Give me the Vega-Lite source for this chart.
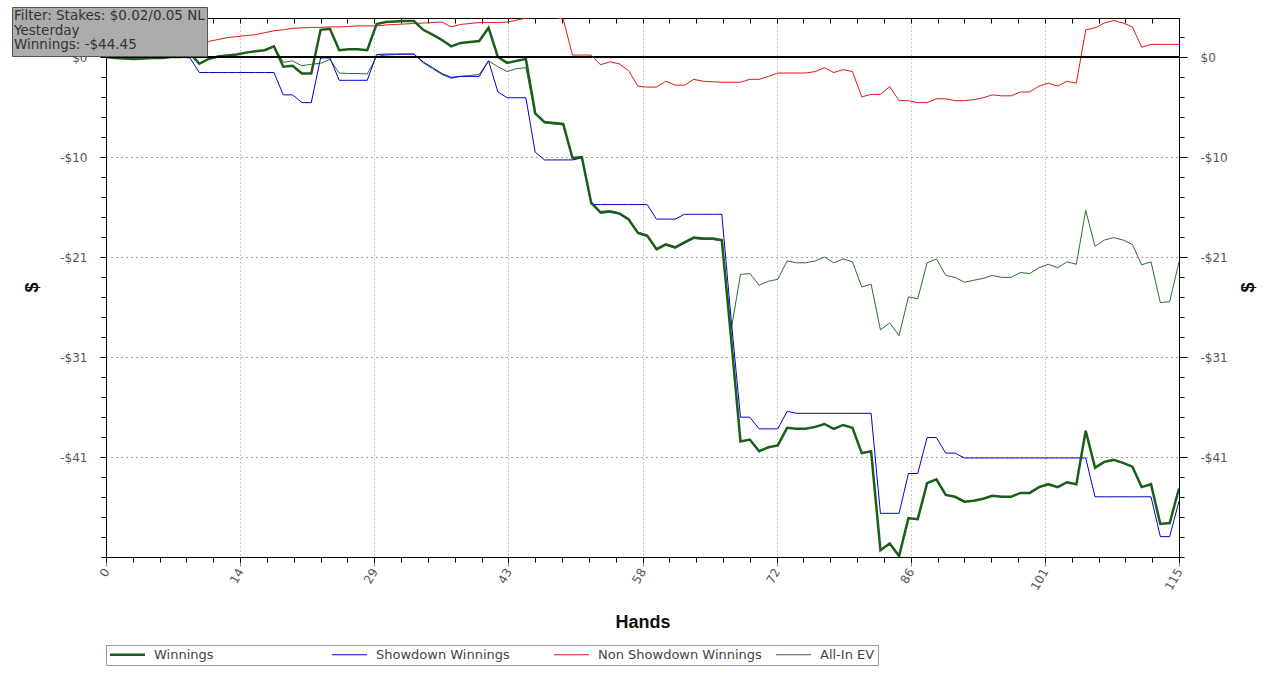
{
"$schema":"https://vega.github.io/schema/vega-lite/v6.json",
"width":1073,"height":539,
"autosize":{"type":"none"},
"padding":{"left":106,"top":18,"right":105,"bottom":126},
"background":"white",
"config":{"view":{"stroke":"black","strokeWidth":1},"font":"DejaVu Sans"},
"data":{"values":[
{"h":0,"W":0,"SD":0,"NSD":0,"EV":0},
{"h":1,"W":-0.1,"SD":-0.1,"NSD":0,"EV":-0.1},
{"h":2,"W":-0.15,"SD":-0.15,"NSD":0,"EV":-0.15},
{"h":3,"W":-0.2,"SD":-0.2,"NSD":0,"EV":-0.2},
{"h":4,"W":-0.15,"SD":-0.15,"NSD":0,"EV":-0.15},
{"h":5,"W":-0.1,"SD":-0.1,"NSD":0,"EV":-0.1},
{"h":6,"W":-0.1,"SD":-0.1,"NSD":0,"EV":-0.1},
{"h":7,"W":0,"SD":0,"NSD":0,"EV":0},
{"h":8,"W":0,"SD":0,"NSD":0,"EV":0},
{"h":9,"W":0.4,"SD":-0.1,"NSD":0.5,"EV":0.4},
{"h":10,"W":-0.7,"SD":-1.6,"NSD":0.9,"EV":-0.7},
{"h":11,"W":-0.2,"SD":-1.6,"NSD":1.6,"EV":-0.2},
{"h":12,"W":0.05,"SD":-1.6,"NSD":1.8,"EV":0.05},
{"h":13,"W":0.15,"SD":-1.6,"NSD":2.0,"EV":0.15},
{"h":14,"W":0.25,"SD":-1.6,"NSD":2.1,"EV":0.25},
{"h":15,"W":0.45,"SD":-1.6,"NSD":2.2,"EV":0.45},
{"h":16,"W":0.6,"SD":-1.6,"NSD":2.3,"EV":0.6},
{"h":17,"W":0.7,"SD":-1.6,"NSD":2.5,"EV":0.7},
{"h":18,"W":1.1,"SD":-1.6,"NSD":2.7,"EV":1.1},
{"h":19,"W":-1.0,"SD":-3.9,"NSD":2.8,"EV":-0.55},
{"h":20,"W":-0.9,"SD":-3.9,"NSD":2.95,"EV":-0.4},
{"h":21,"W":-1.7,"SD":-4.7,"NSD":3.0,"EV":-0.9},
{"h":22,"W":-1.7,"SD":-4.7,"NSD":3.05,"EV":-0.75},
{"h":23,"W":2.8,"SD":-0.1,"NSD":3.05,"EV":-0.65},
{"h":24,"W":2.9,"SD":-0.1,"NSD":3.1,"EV":-0.25},
{"h":25,"W":0.7,"SD":-2.4,"NSD":3.1,"EV":-1.65},
{"h":26,"W":0.8,"SD":-2.4,"NSD":3.15,"EV":-1.7},
{"h":27,"W":0.8,"SD":-2.4,"NSD":3.2,"EV":-1.7},
{"h":28,"W":0.7,"SD":-2.4,"NSD":3.2,"EV":-1.75},
{"h":29,"W":3.4,"SD":0.25,"NSD":3.2,"EV":0.05},
{"h":30,"W":3.6,"SD":0.3,"NSD":3.3,"EV":0.2},
{"h":31,"W":3.65,"SD":0.3,"NSD":3.35,"EV":0.25},
{"h":32,"W":3.7,"SD":0.3,"NSD":3.4,"EV":0.3},
{"h":33,"W":3.7,"SD":0.3,"NSD":3.45,"EV":0.3},
{"h":34,"W":2.8,"SD":-0.5,"NSD":3.5,"EV":-0.6},
{"h":35,"W":2.3,"SD":-1.1,"NSD":3.55,"EV":-1.2},
{"h":36,"W":1.75,"SD":-1.7,"NSD":3.6,"EV":-1.8},
{"h":37,"W":1.1,"SD":-2.1,"NSD":3.1,"EV":-2.2},
{"h":38,"W":1.45,"SD":-2.0,"NSD":3.35,"EV":-2.0},
{"h":39,"W":1.55,"SD":-2.0,"NSD":3.45,"EV":-1.9},
{"h":40,"W":1.65,"SD":-2.0,"NSD":3.55,"EV":-1.8},
{"h":41,"W":3.0,"SD":-0.4,"NSD":3.55,"EV":-0.4},
{"h":42,"W":0.0,"SD":-3.6,"NSD":3.55,"EV":-1.0},
{"h":43,"W":-0.6,"SD":-4.2,"NSD":3.6,"EV":-1.5},
{"h":44,"W":-0.4,"SD":-4.2,"NSD":3.8,"EV":-1.2},
{"h":45,"W":-0.2,"SD":-4.2,"NSD":4.0,"EV":-1.1},
{"h":46,"W":-5.8,"SD":-9.8,"NSD":4.1,"EV":-5.9},
{"h":47,"W":-6.7,"SD":-10.6,"NSD":4.1,"EV":-6.8},
{"h":48,"W":-6.8,"SD":-10.6,"NSD":4.1,"EV":-6.9},
{"h":49,"W":-6.9,"SD":-10.6,"NSD":3.9,"EV":-7.0},
{"h":50,"W":-10.4,"SD":-10.6,"NSD":0.2,"EV":-10.5},
{"h":51,"W":-10.3,"SD":-10.4,"NSD":0.2,"EV":-10.4},
{"h":52,"W":-15.0,"SD":-15.2,"NSD":0.2,"EV":-15.1},
{"h":53,"W":-16.0,"SD":-15.2,"NSD":-0.8,"EV":-16.1},
{"h":54,"W":-15.9,"SD":-15.2,"NSD":-0.5,"EV":-16.0},
{"h":55,"W":-16.1,"SD":-15.2,"NSD":-0.7,"EV":-16.2},
{"h":56,"W":-16.7,"SD":-15.2,"NSD":-1.4,"EV":-16.8},
{"h":57,"W":-18.1,"SD":-15.2,"NSD":-3.0,"EV":-18.2},
{"h":58,"W":-18.4,"SD":-15.2,"NSD":-3.1,"EV":-18.5},
{"h":59,"W":-19.8,"SD":-16.7,"NSD":-3.1,"EV":-19.9},
{"h":60,"W":-19.3,"SD":-16.7,"NSD":-2.5,"EV":-19.4},
{"h":61,"W":-19.6,"SD":-16.7,"NSD":-2.9,"EV":-19.7},
{"h":62,"W":-19.1,"SD":-16.2,"NSD":-2.9,"EV":-19.2},
{"h":63,"W":-18.6,"SD":-16.2,"NSD":-2.3,"EV":-18.7},
{"h":64,"W":-18.7,"SD":-16.2,"NSD":-2.5,"EV":-18.8},
{"h":65,"W":-18.7,"SD":-16.2,"NSD":-2.55,"EV":-18.8},
{"h":66,"W":-18.85,"SD":-16.2,"NSD":-2.6,"EV":-18.95},
{"h":67,"W":-29.0,"SD":-27.0,"NSD":-2.6,"EV":-28.1},
{"h":68,"W":-39.6,"SD":-37.1,"NSD":-2.6,"EV":-22.4},
{"h":69,"W":-39.4,"SD":-37.1,"NSD":-2.3,"EV":-22.3},
{"h":70,"W":-40.6,"SD":-38.3,"NSD":-2.3,"EV":-23.5},
{"h":71,"W":-40.2,"SD":-38.3,"NSD":-2.0,"EV":-23.1},
{"h":72,"W":-40.0,"SD":-38.3,"NSD":-1.65,"EV":-22.9},
{"h":73,"W":-38.2,"SD":-36.5,"NSD":-1.65,"EV":-21.0},
{"h":74,"W":-38.3,"SD":-36.7,"NSD":-1.65,"EV":-21.2},
{"h":75,"W":-38.3,"SD":-36.7,"NSD":-1.65,"EV":-21.2},
{"h":76,"W":-38.1,"SD":-36.7,"NSD":-1.5,"EV":-21.0},
{"h":77,"W":-37.8,"SD":-36.7,"NSD":-1.1,"EV":-20.6},
{"h":78,"W":-38.3,"SD":-36.7,"NSD":-1.6,"EV":-21.2},
{"h":79,"W":-37.9,"SD":-36.7,"NSD":-1.3,"EV":-20.8},
{"h":80,"W":-38.2,"SD":-36.7,"NSD":-1.5,"EV":-21.1},
{"h":81,"W":-40.8,"SD":-36.7,"NSD":-4.1,"EV":-23.7},
{"h":82,"W":-40.6,"SD":-36.7,"NSD":-3.85,"EV":-23.4},
{"h":83,"W":-50.8,"SD":-47.0,"NSD":-3.85,"EV":-28.1},
{"h":84,"W":-50.1,"SD":-47.0,"NSD":-3.05,"EV":-27.4},
{"h":85,"W":-51.4,"SD":-47.0,"NSD":-4.5,"EV":-28.7},
{"h":86,"W":-47.5,"SD":-42.9,"NSD":-4.5,"EV":-24.7},
{"h":87,"W":-47.6,"SD":-42.9,"NSD":-4.7,"EV":-24.9},
{"h":88,"W":-43.9,"SD":-39.2,"NSD":-4.7,"EV":-21.2},
{"h":89,"W":-43.5,"SD":-39.2,"NSD":-4.3,"EV":-20.8},
{"h":90,"W":-45.1,"SD":-40.8,"NSD":-4.3,"EV":-22.5},
{"h":91,"W":-45.3,"SD":-40.8,"NSD":-4.5,"EV":-22.7},
{"h":92,"W":-45.8,"SD":-41.3,"NSD":-4.5,"EV":-23.2},
{"h":93,"W":-45.7,"SD":-41.3,"NSD":-4.4,"EV":-23.0},
{"h":94,"W":-45.5,"SD":-41.3,"NSD":-4.2,"EV":-22.8},
{"h":95,"W":-45.2,"SD":-41.3,"NSD":-3.9,"EV":-22.5},
{"h":96,"W":-45.3,"SD":-41.3,"NSD":-4.0,"EV":-22.7},
{"h":97,"W":-45.3,"SD":-41.3,"NSD":-4.0,"EV":-22.7},
{"h":98,"W":-44.9,"SD":-41.3,"NSD":-3.6,"EV":-22.2},
{"h":99,"W":-44.9,"SD":-41.3,"NSD":-3.6,"EV":-22.3},
{"h":100,"W":-44.3,"SD":-41.3,"NSD":-3.0,"EV":-21.7},
{"h":101,"W":-44.0,"SD":-41.3,"NSD":-2.7,"EV":-21.35},
{"h":102,"W":-44.3,"SD":-41.3,"NSD":-3.0,"EV":-21.7},
{"h":103,"W":-43.8,"SD":-41.3,"NSD":-2.5,"EV":-21.1},
{"h":104,"W":-44.0,"SD":-41.3,"NSD":-2.7,"EV":-21.35},
{"h":105,"W":-38.5,"SD":-41.3,"NSD":2.8,"EV":-15.8},
{"h":106,"W":-42.3,"SD":-45.3,"NSD":3.0,"EV":-19.5},
{"h":107,"W":-41.7,"SD":-45.3,"NSD":3.5,"EV":-18.85},
{"h":108,"W":-41.5,"SD":-45.3,"NSD":3.75,"EV":-18.6},
{"h":109,"W":-41.8,"SD":-45.3,"NSD":3.5,"EV":-18.85},
{"h":110,"W":-42.2,"SD":-45.3,"NSD":3.1,"EV":-19.3},
{"h":111,"W":-44.3,"SD":-45.3,"NSD":1.0,"EV":-21.4},
{"h":112,"W":-44.0,"SD":-45.3,"NSD":1.3,"EV":-21.1},
{"h":113,"W":-48.1,"SD":-49.4,"NSD":1.3,"EV":-25.3},
{"h":114,"W":-48.0,"SD":-49.4,"NSD":1.3,"EV":-25.2},
{"h":115,"W":-44.45,"SD":-45.75,"NSD":1.3,"EV":-21.1}
]},
"transform":[{"fold":["W","SD","NSD","EV"],"as":["series","value"]}],
"resolve":{"scale":{"x":"independent","y":"independent"},"axis":{"x":"independent","y":"independent"}},
"encoding":{
  "color":{"field":"series","type":"nominal",
    "scale":{"domain":["W","SD","NSD","EV"],"range":["#1b5e1b","#0000d0","#e01818","#2f6a2f"]},
    "legend":{"title":null,"orient":"none","legendX":0,"legendY":627,"direction":"horizontal","columns":4,"gridAlign":"all",
      "symbolType":"stroke","symbolSize":1225,"symbolStrokeWidth":1,"symbolOffset":12,"labelFontSize":13,"labelColor":"#444","labelLimit":400,
      "labelOffset":20,"columnPadding":12,"padding":3,"strokeColor":"#999","fillColor":"white",
      "labelExpr":"datum.label == 'W' ? 'Winnings' : datum.label == 'SD' ? 'Showdown Winnings' : datum.label == 'NSD' ? 'Non Showdown Winnings' : 'All-In EV'",
      "encode":{"symbols":{"update":{"strokeWidth":{"signal":"datum.value === 'W' ? 2.5 : 1"}}}}}
  }
},
"layer":[
{
  "transform":[{"filter":"datum.series == 'EV'"}],
  "mark":{"type":"line","strokeWidth":1,"clip":true},
  "encoding":{
    "x":{"field":"h","type":"quantitative","scale":{"domain":[0,115],"nice":false,"zero":false},
      "axis":{"orient":"bottom","values":[0,14.375,28.75,43.125,57.5,71.875,86.25,100.625,115],
        "labelExpr":"format(round(datum.value),'d')","labelAngle":-60,"labelAlign":"right","labelBaseline":"middle",
        "labelFontSize":12,"labelColor":"#555","labelPadding":3,"tickSize":9,"tickColor":"#888","domainColor":"black",
        "grid":true,"gridDash":[1,3],"gridColor":"#999",
        "title":"Hands","titleFont":"Liberation Sans","titleFontSize":18,"titleFontWeight":"bold","titleColor":"#111",
        "titleY":65,"titleBaseline":"middle"}},
    "y":{"field":"value","type":"quantitative","scale":{"domain":[-51.5,4.017],"nice":false,"zero":false},
      "axis":{"orient":"left","values":[0,-10.3,-20.6,-30.9,-41.2],
        "labelExpr":"datum.value == 0 ? '$0' : '-$' + format(abs(datum.value),'.0f')",
        "labelFontSize":12,"labelColor":"#555","labelPadding":13,"tickSize":6,"tickColor":"black","domainColor":"black",
        "grid":true,"gridDash":[1,4],"gridColor":"#444",
        "title":"$","titleFont":"Liberation Sans","titleFontSize":18,"titleFontWeight":"bold","titleColor":"#111",
        "titleX":-74,"titleY":269,"titleAngle":-90,"titleBaseline":"middle","titleAlign":"center"}}
  }
},
{
  "transform":[{"filter":"datum.series == 'NSD'"}],
  "mark":{"type":"line","strokeWidth":1,"clip":true},
  "encoding":{
    "x":{"field":"h","type":"quantitative","scale":{"domain":[0,115],"nice":false,"zero":false},
      "axis":{"orient":"bottom","values":[0,2.875,5.75,8.625,11.5,14.375,17.25,20.125,23,25.875,28.75,31.625,34.5,37.375,40.25,43.125,46,48.875,51.75,54.625,57.5,60.375,63.25,66.125,69,71.875,74.75,77.625,80.5,83.375,86.25,89.125,92,94.875,97.75,100.625,103.5,106.375,109.25,112.125,115],
        "labels":false,"grid":false,"domain":false,"tickSize":5,"tickColor":"black","title":null}},
    "y":{"field":"value","type":"quantitative","scale":{"domain":[-51.5,4.017],"nice":false,"zero":false},
      "axis":{"orient":"left","values":[2.06,0,-2.06,-4.12,-6.18,-8.24,-10.3,-12.36,-14.42,-16.48,-18.54,-20.6,-22.66,-24.72,-26.78,-28.84,-30.9,-32.96,-35.02,-37.08,-39.14,-41.2,-43.26,-45.32,-47.38,-49.44,-51.5],
        "labels":false,"grid":false,"domain":false,"tickSize":5,"tickColor":"black","title":null}}
  }
},
{
  "transform":[{"filter":"datum.series == 'SD'"}],
  "mark":{"type":"line","strokeWidth":1,"clip":true},
  "encoding":{
    "x":{"field":"h","type":"quantitative","scale":{"domain":[0,115],"nice":false,"zero":false},
      "axis":{"orient":"top","values":[2.875,5.75,8.625,11.5,14.375,17.25,20.125,23,25.875,28.75,31.625,34.5,37.375,40.25,43.125,46,48.875,51.75,54.625,57.5,60.375,63.25,66.125,69,71.875,74.75,77.625,80.5,83.375,86.25,89.125,92,94.875,97.75,100.625,103.5,106.375,109.25,112.125],
        "labels":false,"grid":false,"domain":true,"domainColor":"black","tickSize":-5,"tickColor":"black","title":null}},
    "y":{"field":"value","type":"quantitative","scale":{"domain":[-51.5,4.017],"nice":false,"zero":false},
      "axis":{"orient":"right","values":[0,-10.3,-20.6,-30.9,-41.2],
        "labelExpr":"datum.value == 0 ? '$0' : '-$' + format(abs(datum.value),'.0f')",
        "labelFontSize":12,"labelColor":"#555","labelPadding":13,"tickSize":8,"tickColor":"black","domainColor":"black","grid":false,
        "title":"$","titleFont":"Liberation Sans","titleFontSize":18,"titleFontWeight":"bold","titleColor":"#111",
        "titleX":69,"titleY":269,"titleAngle":-90,"titleBaseline":"middle","titleAlign":"center"}}
  }
},
{
  "transform":[{"filter":"datum.series == 'W'"}],
  "mark":{"type":"line","strokeWidth":2.5,"clip":true},
  "encoding":{
    "x":{"field":"h","type":"quantitative","scale":{"domain":[0,115],"nice":false,"zero":false},"axis":null},
    "y":{"field":"value","type":"quantitative","scale":{"domain":[-51.5,4.017],"nice":false,"zero":false},
      "axis":{"orient":"right","values":[2.06,-2.06,-4.12,-6.18,-8.24,-12.36,-14.42,-16.48,-18.54,-22.66,-24.72,-26.78,-28.84,-32.96,-35.02,-37.08,-39.14,-43.26,-45.32,-47.38,-49.44,-51.5],
        "labels":false,"grid":false,"domain":false,"tickSize":5,"tickColor":"black","title":null}}
  }
},
{
  "transform":[{"filter":"datum.series == 'W' && datum.h == 0"}],
  "mark":{"type":"point","opacity":0},
  "encoding":{
    "color":{"value":"black"},
    "shape":{"datum":"info","legend":{
      "title":["Filter: Stakes: $0.02/0.05 NL","Yesterday","Winnings: -$44.45"],
      "orient":"none","legendX":-94,"legendY":-11,"fillColor":"#acacac","strokeColor":"#555","padding":2,
      "titleFontSize":13.5,"titleFontWeight":"normal","titleColor":"#333","titleLineHeight":14.5,"titlePadding":0,"titleLimit":400,
      "symbolOpacity":0,"symbolSize":1,"labelFontSize":1,"labelExpr":"''","rowPadding":0}}
  }
},
{
  "mark":{"type":"rule","color":"black","strokeWidth":1},
  "encoding":{"y":{"datum":0,"type":"quantitative","scale":{"domain":[-51.5,4.017],"nice":false,"zero":false},"axis":null},"color":{"value":"black"}}
}
]
}
